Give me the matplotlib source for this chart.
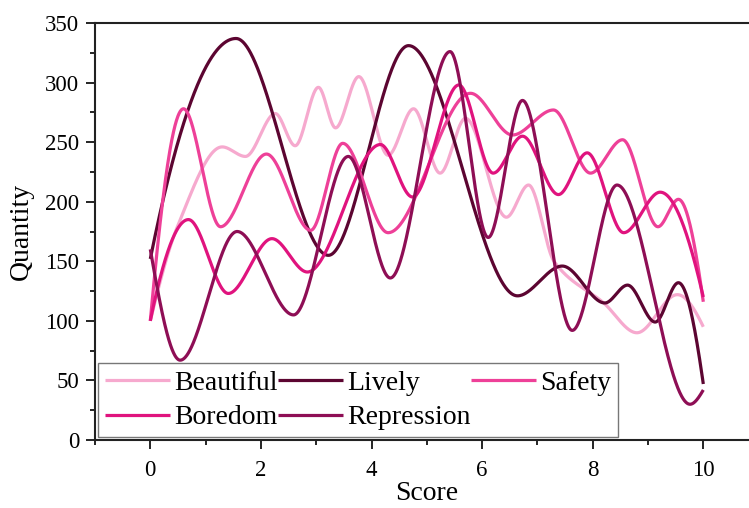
import numpy as np
import matplotlib
matplotlib.use("Agg")
import matplotlib.pyplot as plt
from matplotlib.ticker import MultipleLocator

# ---- data (knots) ----
beautiful_x = [0, 0.49, 1.3, 1.72, 2.26, 2.62, 3.04, 3.35, 3.77, 4.3, 4.76, 5.24, 5.7, 6.44, 6.84, 7.3, 8.2, 8.8, 9.53, 10]
beautiful_y = [100, 179, 246, 238, 274, 247, 296, 262, 305, 239, 278, 224, 270, 187, 214, 150, 115, 90, 122, 95]

lively_x = [0, 1.55, 3.22, 4.67, 6.64, 7.45, 8.22, 8.63, 9.13, 9.55, 10]
lively_y = [152, 337, 155, 331, 121, 146, 115, 130, 99, 132, 47]

safety_x = [0, 0.6, 1.27, 2.1, 2.9, 3.48, 4.3, 5.79, 6.55, 7.29, 7.96, 8.54, 9.18, 9.55, 10]
safety_y = [100, 278, 179, 240, 176, 249, 174, 291, 256, 277, 224, 252, 179, 202, 116]

boredom_x = [0, 0.69, 1.41, 2.2, 2.84, 4.16, 4.74, 5.58, 6.2, 6.73, 7.38, 7.9, 8.56, 9.22, 10]
boredom_y = [100, 185, 123, 169, 141, 248, 204, 298, 224, 255, 206, 241, 174, 208, 120]

repression_x = [0, 0.54, 1.57, 2.59, 3.58, 4.34, 5.42, 6.11, 6.73, 7.63, 8.44, 9.76, 10]
repression_y = [160, 67, 175, 105, 238, 136, 326, 170, 285, 92, 214, 30, 42]

names = ["Beautiful", "Lively", "Safety", "Boredom", "Repression"]
colors = ["#F6A9CE", "#5C0531", "#EE4098", "#E0137E", "#8E0E55"]

x_ticks = [0, 2, 4, 6, 8, 10]
y_ticks = [0, 50, 100, 150, 200, 250, 300, 350]


def pchip(x, y, xs):
    x = np.asarray(x, float); y = np.asarray(y, float)
    h = np.diff(x); d = np.diff(y) / h
    n = len(x); m = np.zeros(n)
    for k in range(1, n - 1):
        if d[k - 1] * d[k] > 0:
            w1 = 2 * h[k] + h[k - 1]; w2 = h[k] + 2 * h[k - 1]
            m[k] = (w1 + w2) / (w1 / d[k - 1] + w2 / d[k])

    def edge(h0, h1, m0, m1):
        dd = ((2 * h0 + h1) * m0 - h0 * m1) / (h0 + h1)
        if np.sign(dd) != np.sign(m0):
            dd = 0.0
        elif np.sign(m0) != np.sign(m1) and abs(dd) > abs(3 * m0):
            dd = 3 * m0
        return dd

    m[0] = edge(h[0], h[1], d[0], d[1])
    m[-1] = edge(h[-1], h[-2], d[-1], d[-2])
    idx = np.clip(np.searchsorted(x, xs) - 1, 0, n - 2)
    hk = h[idx]
    t = (xs - x[idx]) / hk
    h00 = 2 * t**3 - 3 * t**2 + 1
    h10 = t**3 - 2 * t**2 + t
    h01 = -2 * t**3 + 3 * t**2
    h11 = t**3 - t**2
    return h00 * y[idx] + h10 * hk * m[idx] + h01 * y[idx + 1] + h11 * hk * m[idx + 1]


plt.rcParams['font.family'] = ['Liberation Serif', 'DejaVu Serif']

fig = plt.figure(figsize=(7.49, 5.08), dpi=100)
ax = fig.add_axes([95 / 749, 68 / 508, (758.6 - 95) / 749, (440 - 23) / 508])

series = [(beautiful_x, beautiful_y), (lively_x, lively_y), (safety_x, safety_y),
          (boredom_x, boredom_y), (repression_x, repression_y)]
xs = np.linspace(0, 10, 1500)
lines = {}
for (sx, sy), name, c in zip(series, names, colors):
    ln, = ax.plot(xs, pchip(sx, sy, xs), color=c, lw=2.3, label=name, solid_capstyle='butt')
    lines[name] = ln

ax.set_xlim(-1, 11)
ax.set_ylim(0, 350)
ax.set_xticks(x_ticks)
ax.set_yticks(y_ticks)
ax.xaxis.set_minor_locator(MultipleLocator(1))
ax.yaxis.set_minor_locator(MultipleLocator(25))
ax.tick_params(which='major', direction='out', length=6.5, width=1.2, labelsize=16.5, pad=5)
ax.tick_params(which='minor', direction='out', length=3.5, width=1.2)
ax.tick_params(axis='x', which='major', pad=8)
ax.tick_params(top=False, right=False, which='both')
for s in ax.spines.values():
    s.set_linewidth(1.5)
    s.set_color('#222222')

ax.set_xlabel("Score", fontsize=20, labelpad=0)
ax.set_ylabel("Quantity", fontsize=20, labelpad=8)

# legend laid out row-wise: Beautiful, Lively, Safety / Boredom, Repression
order = ["Beautiful", "Boredom", "Lively", "Repression", "Safety"]
leg = ax.legend([lines[n] for n in order], order, loc='lower left', ncol=3, fontsize=20,
                frameon=True, fancybox=False, edgecolor='#555555', handlelength=2.35,
                handletextpad=0.15, columnspacing=0.0, borderpad=0.25, labelspacing=0.33,
                borderaxespad=0.1, bbox_to_anchor=(0.0, 0.0))
leg.get_frame().set_linewidth(1.0)

fig.savefig("out.png", dpi=100)
